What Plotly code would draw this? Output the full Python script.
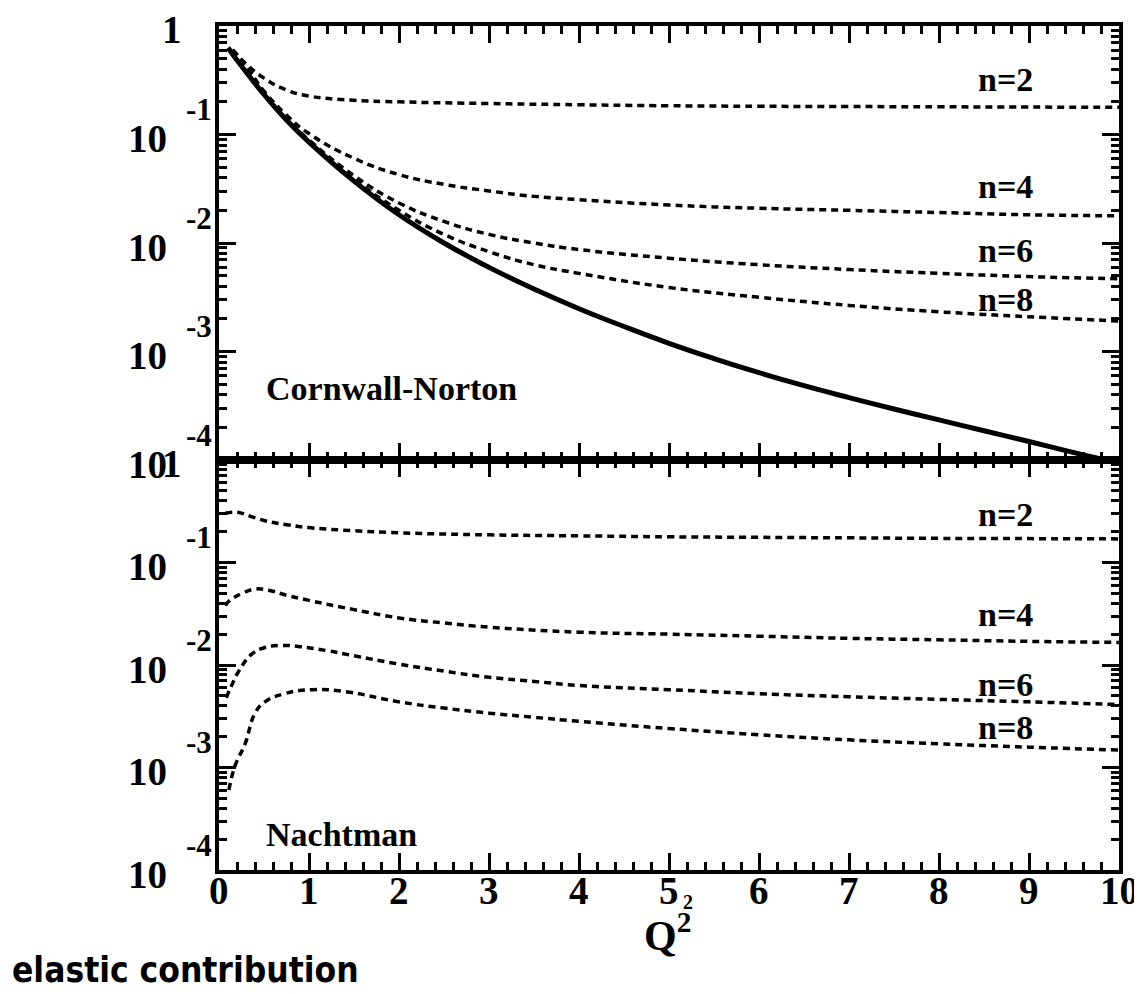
import plotly.graph_objects as go

# ---------------- data ----------------
# Top panel: Cornwall-Norton
cn_solid_q = [0.1, 0.25, 0.5, 0.75, 1.0, 1.5, 2.0, 2.5, 3.0, 3.5, 4.0, 4.5, 5.0, 5.5,
              6.0, 6.5, 7.0, 7.5, 8.0, 8.5, 9.0, 9.5, 9.85]
cn_solid = [0.631, 0.427, 0.234, 0.136, 0.0851, 0.0372, 0.0182, 0.0100, 0.00596, 0.00376,
            0.00248, 0.00170, 0.00119, 8.61e-4, 6.38e-4, 4.84e-4, 3.76e-4, 2.95e-4,
            2.34e-4, 1.86e-4, 1.48e-4, 1.17e-4, 1.0e-4]

cn_n2_q = [0.15, 0.3, 0.5, 0.75, 1, 1.5, 2, 3, 4, 5, 6, 7, 8, 9, 10]
cn_n2 = [0.603, 0.447, 0.331, 0.257, 0.226, 0.207, 0.200, 0.193, 0.188, 0.184, 0.182,
         0.181, 0.180, 0.179, 0.178]

cn_q = [0.15, 0.3, 0.5, 0.75, 1, 1.5, 2, 2.5, 3, 3.5, 4, 5, 6, 7, 8, 9, 10]
cn_n4 = [0.603, 0.427, 0.251, 0.151, 0.102, 0.0603, 0.0427, 0.0347, 0.0302, 0.0269,
         0.0251, 0.0224, 0.0209, 0.0200, 0.0191, 0.0182, 0.0178]
cn_n6 = [0.603, 0.427, 0.240, 0.140, 0.0891, 0.0417, 0.0234, 0.0158, 0.0120, 0.0100,
         0.00871, 0.00724, 0.00631, 0.00569, 0.00525, 0.00490, 0.00468]
cn_n8 = [0.603, 0.427, 0.237, 0.138, 0.0871, 0.0389, 0.0200, 0.0120, 0.00832, 0.00631,
         0.00525, 0.00389, 0.00316, 0.00266, 0.00232, 0.00209, 0.00191]

# Bottom panel: Nachtman
na_n2_q = [0.07, 0.2, 0.35, 0.5, 0.75, 1, 1.5, 2, 3, 4, 5, 6, 7, 8, 9, 10]
na_n2 = [0.302, 0.309, 0.282, 0.257, 0.234, 0.219, 0.204, 0.195, 0.186, 0.182, 0.178,
         0.176, 0.174, 0.172, 0.171, 0.170]

na_n4_q = [0.07, 0.12, 0.26, 0.4, 0.55, 0.75, 1, 1.5, 2, 2.5, 3, 4, 5, 6, 7, 8, 9, 10]
na_n4 = [0.0380, 0.0427, 0.0501, 0.0550, 0.0537, 0.0479, 0.0427, 0.0347, 0.0288, 0.0257,
         0.0234, 0.0209, 0.0200, 0.0191, 0.0182, 0.0176, 0.0170, 0.0166]

na_n6_q = [0.08, 0.14, 0.22, 0.37, 0.51, 0.7, 0.9, 1.2, 1.5, 2, 2.5, 3, 3.5, 4, 5, 6, 7,
           8, 9, 10]
na_n6 = [0.00479, 0.00631, 0.00871, 0.0129, 0.0148, 0.0155, 0.0151, 0.0138, 0.0123,
         0.0102, 0.00871, 0.00759, 0.00692, 0.00631, 0.00575, 0.00525, 0.00490,
         0.00462, 0.00437, 0.00412]

na_n8_q = [0.11, 0.18, 0.29, 0.4, 0.51, 0.73, 1.03, 1.4, 2, 2.5, 3, 3.5, 4, 5, 6, 7, 8,
           9, 10]
na_n8 = [6.03e-4, 1.05e-3, 1.70e-3, 3.39e-3, 4.37e-3, 5.25e-3, 5.75e-3, 5.50e-3, 4.37e-3,
         3.80e-3, 3.39e-3, 3.09e-3, 2.82e-3, 2.40e-3, 2.09e-3, 1.86e-3, 1.70e-3, 1.58e-3,
         1.48e-3]

x_ticks = [0, 1, 2, 3, 4, 5, 6, 7, 8, 9, 10]
y_decades = [-4, -3, -2, -1, 0]
y_minor_vals = [k * 10.0 ** e for e in (-4, -3, -2, -1) for k in range(2, 10)]

n_labels = ["n=2", "n=4", "n=6", "n=8"]
top_label_pos = [-0.49, -1.48, -2.07, -2.52]   # log10 positions
bot_label_pos = [-0.53, -1.51, -2.19, -2.61]

# ---------------- figure ----------------
SERIF = "Liberation Serif"
dash_style = dict(color="black", width=3.5, dash="7px,5px")
SM = 1.3

fig = go.Figure()

fig.add_trace(go.Scatter(x=cn_solid_q, y=cn_solid, mode="lines", xaxis="x", yaxis="y",
                         line=dict(color="black", width=5, shape="spline", smoothing=SM)))
for qs, ys in [(cn_n2_q, cn_n2), (cn_q, cn_n4), (cn_q, cn_n6), (cn_q, cn_n8)]:
    fig.add_trace(go.Scatter(x=qs, y=ys, mode="lines", xaxis="x", yaxis="y",
                             line=dict(shape="spline", smoothing=SM, **dash_style)))
for qs, ys in [(na_n2_q, na_n2), (na_n4_q, na_n4), (na_n6_q, na_n6), (na_n8_q, na_n8)]:
    fig.add_trace(go.Scatter(x=qs, y=ys, mode="lines", xaxis="x2", yaxis="y2",
                             line=dict(shape="spline", smoothing=SM, **dash_style)))

split = 410 / 844

common = dict(showline=True, linecolor="black", linewidth=3.5, mirror="ticks",
              ticks="inside", tickcolor="black", tickwidth=2.5, showgrid=False,
              zeroline=False)

xcommon = dict(range=[0, 10], tickvals=x_ticks, ticklen=17, showticklabels=False,
               minor=dict(dtick=0.2, tick0=0, ticklen=8, tickwidth=2.5, ticks="inside",
                          tickcolor="black", showgrid=False), **common)
ycommon = dict(type="log", range=[-4, 0], tickvals=[10.0 ** e for e in y_decades],
               ticklen=17, showticklabels=False,
               minor=dict(tickvals=y_minor_vals, ticklen=8, tickwidth=2.5, ticks="inside",
                          tickcolor="black", showgrid=False), **common)

fig.update_layout(
    width=1136, height=988,
    margin=dict(l=211, r=25, t=18, b=126),
    paper_bgcolor="white", plot_bgcolor="white",
    showlegend=False,
    xaxis=dict(anchor="y", domain=[0, 1], **xcommon),
    yaxis=dict(anchor="x", domain=[split, 1], **ycommon),
    xaxis2=dict(anchor="y2", domain=[0, 1], **xcommon),
    yaxis2=dict(anchor="x2", domain=[0, split], **ycommon),
)

ann = []
big = dict(family=SERIF, size=39, color="black", weight="bold")
small = dict(family=SERIF, size=31, color="black", weight="bold")
lab = dict(family=SERIF, size=34, color="black", weight="bold")

for yref in ("y", "y2"):
    for e in y_decades:
        if e == 0:
            ann.append(dict(text="1", x=-0.039, xref="paper", xanchor="right",
                            y=0, yref=yref, yanchor="middle", yshift=-3,
                            showarrow=False, font=big))
        else:
            ann.append(dict(text="10", x=-0.0556, xref="paper", xanchor="right",
                            y=e, yref=yref, yanchor="middle", yshift=-4,
                            showarrow=False, font=big))
            ann.append(dict(text=str(e), x=-0.006, xref="paper", xanchor="right",
                            y=e, yref=yref, yanchor="middle", yshift=25,
                            showarrow=False, font=small))

# x tick labels
for v in x_ticks:
    ann.append(dict(text=str(v), x=v, xref="x2", y=-0.024, yref="paper",
                    yanchor="middle", showarrow=False, font=big))

for t, yy in zip(n_labels, top_label_pos):
    ann.append(dict(text=t, x=8.74, xref="x", y=yy, yref="y", showarrow=False, font=lab))
for t, yy in zip(n_labels, bot_label_pos):
    ann.append(dict(text=t, x=8.74, xref="x2", y=yy, yref="y2", showarrow=False, font=lab))

ann.append(dict(text="Cornwall-Norton", x=0.5, xref="x", xanchor="left", y=-3.34,
                yref="y", showarrow=False,
                font=dict(family=SERIF, size=34, color="black", weight="bold")))
ann.append(dict(text="Nachtman", x=0.5, xref="x2", xanchor="left", y=-3.65,
                yref="y2", showarrow=False,
                font=dict(family=SERIF, size=34, color="black", weight="bold")))

ann.append(dict(text="Q<sup>2</sup>", x=4.98, xref="x2", y=-0.040, yref="paper",
                yanchor="top", showarrow=False,
                font=dict(family=SERIF, size=42, color="black", weight="bold")))
ann.append(dict(text="2", x=5.21, xref="x2", y=-0.038, yref="paper",
                yanchor="middle", showarrow=False,
                font=dict(family=SERIF, size=20, color="black", weight="bold")))
ann.append(dict(text="elastic contribution", x=-0.232, xref="paper", xanchor="left",
                y=-0.1185, yref="paper", yanchor="middle", showarrow=False,
                font=dict(family="DejaVu Sans Condensed, DejaVu Sans", size=35,
                          color="black", weight="bold")))

fig.update_layout(annotations=ann)

fig.write_html("out.html")
